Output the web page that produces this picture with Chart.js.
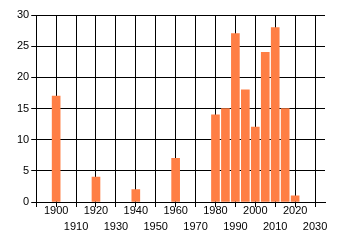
<!DOCTYPE html>
<html>
<head>
<meta charset="utf-8">
<script src="https://cdn.jsdelivr.net/npm/chart.js@4/dist/chart.umd.min.js"></script>
<style>
html,body{margin:0;padding:0;background:#fff;}
#wrap{width:340px;height:245px;}
</style>
</head>
<body>
<div id="wrap"><canvas id="c" width="340" height="245"></canvas></div>
<script>
const years = [1900, 1920, 1940, 1960, 1980, 1985, 1990, 1995, 2000, 2005, 2010, 2015, 2020];
const counts = [17, 4, 2, 7, 14, 15, 27, 18, 12, 24, 28, 15, 1];
const xTicks = [1890, 1900, 1910, 1920, 1930, 1940, 1950, 1960, 1970, 1980, 1990, 2000, 2010, 2020, 2030];
const yTicks = [0, 5, 10, 15, 20, 25, 30];

const fontSpec = {family: "'Liberation Sans', Arial, sans-serif", size: 11, lineHeight: 16/11};

new Chart(document.getElementById('c'), {
  type: 'bar',
  data: {
    datasets: [{
      data: years.map((y, i) => ({x: y, y: counts[i]})),
      backgroundColor: '#FF7F45',
      borderWidth: 0,
      barThickness: 8
    }]
  },
  options: {
    responsive: false,
    animation: false,
    events: [],
    layout: {padding: {left: 15, right: 15, top: 15, bottom: 14}},
    plugins: {legend: {display: false}, tooltip: {enabled: false}},
    scales: {
      x: {
        type: 'linear',
        min: 1890,
        max: 2035,
        offset: false,
        afterBuildTicks: s => { s.ticks = xTicks.map(v => ({value: v})); },
        grid: {color: '#000', lineWidth: 1, tickLength: 5, offset: false, drawOnChartArea: true},
        border: {color: '#000', width: 1},
        ticks: {
          autoSkip: false,
          maxRotation: 0,
          minRotation: 0,
          padding: -4,
          color: '#000',
          font: fontSpec,
          callback: function(v) {
            if (v === 1890) return '';
            const idx = Math.round((v - 1900) / 10);
            return idx % 2 === 0 ? [String(v)] : ['', String(v)];
          }
        }
      },
      y: {
        min: 0,
        max: 30,
        afterBuildTicks: s => { s.ticks = yTicks.map(v => ({value: v})); },
        grid: {color: '#000', lineWidth: 1, tickLength: 5},
        border: {color: '#000', width: 1},
        ticks: {padding: 2, color: '#000', font: {family: "'Liberation Sans', Arial, sans-serif", size: 11}}
      }
    }
  }
});
</script>
</body>
</html>
